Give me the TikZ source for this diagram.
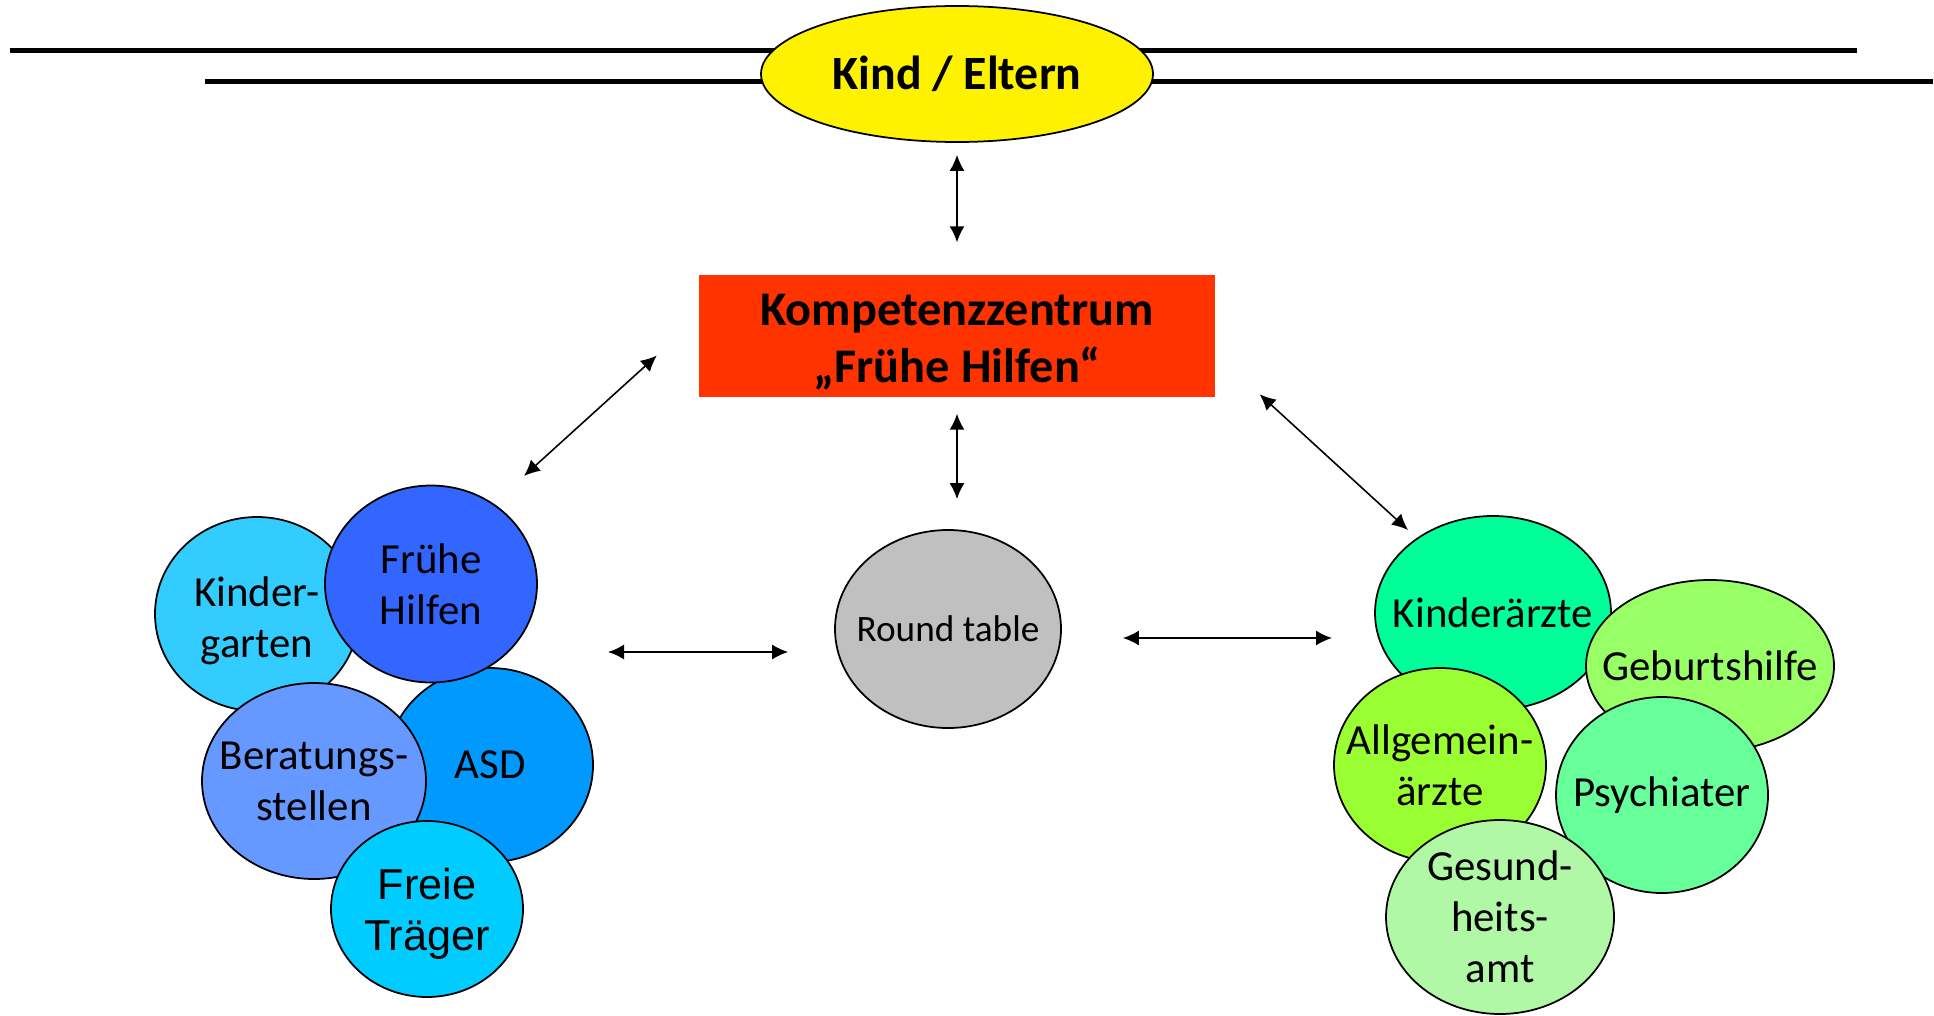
\documentclass[tikz,border=0pt]{standalone}
\usepackage{fontspec}
\setmainfont{Carlito}
\newfontfamily\arialfont{Liberation Sans}
\usetikzlibrary{arrows.meta,shapes.geometric}

\definecolor{kzred}{HTML}{FF3300}
\definecolor{rtgrey}{HTML}{C0C0C0}
\definecolor{kigablue}{HTML}{33CCFF}
\definecolor{fhblue}{HTML}{3366FF}
\definecolor{asdblue}{HTML}{0099FF}
\definecolor{berablue}{HTML}{6699FF}
\definecolor{freiblue}{HTML}{00CCFF}
\definecolor{kingreen}{HTML}{00FF99}
\definecolor{gebgreen}{HTML}{99FF66}
\definecolor{allggreen}{HTML}{99FF33}
\definecolor{psygreen}{HTML}{66FF99}
\definecolor{gesgreen}{HTML}{B0F8A6}

\tikzset{
  blob/.style={ellipse,draw=black,line width=0.5pt,inner sep=-0.3cm,align=center,
    font=\fontsize{12.2}{14.5}\selectfont},
  link/.style={<->,line width=0.45pt},
}

\begin{document}
\begin{tikzpicture}[>={Latex[length=0.16cm,width=0.15cm]}]
  \useasboundingbox (0,0) rectangle (19.34,10.15);
  % bars behind the family
  \draw[line width=0.05cm] (0.10,9.65) -- (18.57,9.65);
  \draw[line width=0.05cm] (2.05,9.34) -- (19.33,9.34);
  \node[blob,fill=yellow,minimum width=3.92cm,minimum height=1.36cm,
    font=\bfseries\fontsize{13.6}{16}\selectfont] (kind) at (9.57,9.41) {Kind / Eltern};
  \node[fill=kzred,minimum width=5.16cm,minimum height=1.22cm,inner sep=0pt,align=center,
    font=\bfseries\fontsize{13.75}{16.2}\selectfont] (kz) at (9.57,6.79) {\rule{0pt}{12.5pt}Kompetenzzentrum\\„Frühe Hilfen“};
  \node[blob,fill=rtgrey,minimum width=2.26cm,minimum height=1.98cm,
    font=\fontsize{10.6}{12}\selectfont] (rt) at (9.48,3.86) {Round table};

  % left group
  \node[blob,fill=kigablue,minimum width=2.04cm,minimum height=1.94cm] (kiga) at (2.57,4.01) {\rule{0pt}{12.5pt}Kinder-\\garten};
  \node[blob,fill=asdblue,minimum width=2.06cm,minimum height=1.94cm] (asd) at (4.90,2.50) {ASD};
  \node[blob,fill=fhblue,minimum width=2.12cm,minimum height=1.97cm] (fh) at (4.31,4.31) {Frühe\\Hilfen};
  \node[blob,fill=berablue,minimum width=2.24cm,minimum height=1.96cm] (bera) at (3.14,2.34) {Beratungs-\\stellen};
  \node[blob,fill=freiblue,minimum width=1.92cm,minimum height=1.76cm,
    font=\arialfont\fontsize{12.3}{14.7}\selectfont] (frei) at (4.27,1.06) {\rule{0pt}{11.7pt}Freie\\Träger};

  % right group
  \node[blob,fill=kingreen,minimum width=2.36cm,minimum height=1.94cm] (kin) at (14.93,4.02) {Kinderärzte};
  \node[blob,fill=gebgreen,minimum width=2.48cm,minimum height=1.72cm] (geb) at (17.10,3.49) {Geburtshilfe};
  \node[blob,fill=allggreen,minimum width=2.12cm,minimum height=1.94cm] (allg) at (14.40,2.50) {Allgemein-\\ärzte};
  \node[blob,fill=psygreen,minimum width=2.12cm,minimum height=1.96cm] (psy) at (16.62,2.20) {Psychiater};
  \node[blob,fill=gesgreen,minimum width=2.28cm,minimum height=1.94cm] (ges) at (15.00,0.98) {Gesund-\\heits-\\amt};

  % connections
  \coordinate (ld) at (5.24,5.39);
  \coordinate (rd) at (14.08,4.85);
  \coordinate (lh) at (6.08,3.63);
  \coordinate (rh) at (13.32,3.77);
  \draw[link,shorten <=0.12cm,shorten >=0.32cm] (kind.south) -- (kz.north);
  \draw[link,shorten <=0.16cm,shorten >=0.30cm] (kz.south) -- (kz.south |- rt.north);
  \draw[link,shorten >=0.56cm] (ld) -- (kz.176.9);
  \draw[link,shorten <=0.595cm] (kz.-4.4) -- (rd);
  \draw[link,shorten >=0.46cm] (lh) -- (lh -| rt.west);
  \draw[link,shorten <=0.61cm] (rh -| rt.east) -- (rh);
\end{tikzpicture}
\end{document}
